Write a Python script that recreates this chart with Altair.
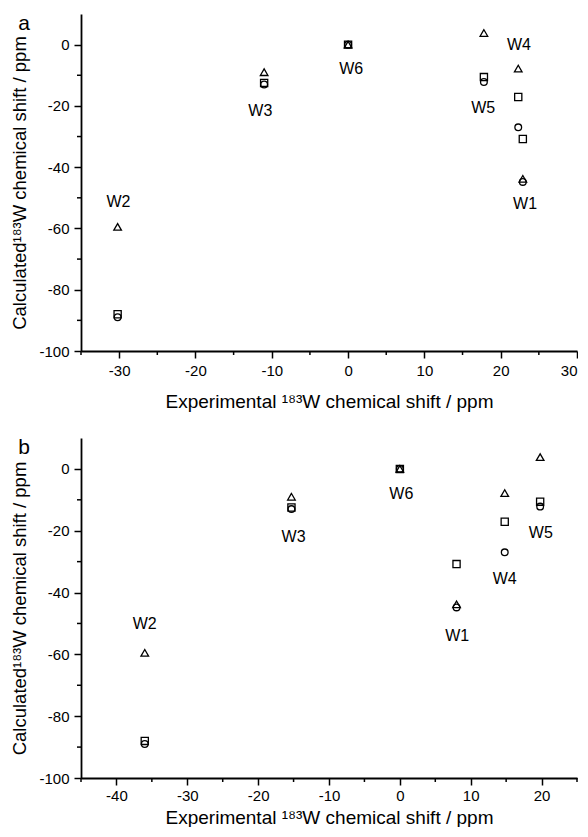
import altair as alt
import pandas as pd

sites = ["W1", "W2", "W3", "W4", "W5", "W6"]
exp_a = [22.9, -30.2, -11.0, 22.3, 17.8, 0.0]
exp_b = [8.0, -36.0, -15.3, 14.8, 19.8, 0.0]
calc_triangle = [-43.8, -59.5, -9.0, -7.8, 3.8, 0.0]
calc_square = [-30.8, -88.0, -12.5, -17.1, -10.6, 0.0]
calc_circle = [-44.8, -89.0, -13.0, -27.0, -12.2, 0.0]
series_names = ["triangle", "square", "circle"]
label_a_x = [23.2, -30.1, -11.5, 22.4, 17.7, 0.4]
label_a_y = [-52.0, -51.5, -21.6, 0.0, -20.6, -8.0]
label_b_x = [8.1, -36.0, -15.0, 14.8, 19.9, 0.2]
label_b_y = [-54.0, -50.2, -22.0, -35.5, -20.6, -8.0]
x_major_a = [-30, -20, -10, 0, 10, 20, 30]
x_minor_a = [-35, -25, -15, -5, 5, 15, 25]
x_major_b = [-40, -30, -20, -10, 0, 10, 20]
x_minor_b = [-45, -35, -25, -15, -5, 5, 15, 25]
y_major = [-100, -80, -60, -40, -20, 0]
y_minor = [-90, -70, -50, -30, -10]

FONT = "Liberation Sans"
XTITLE = "Experimental \u00b9\u2078\u00b3W chemical shift / ppm"
YTITLE = "Calculated\u00b9\u2078\u00b3W chemical shift / ppm"
HYPHEN_LABEL = "datum.value < 0 ? '-' + toString(abs(datum.value)) : toString(datum.value)"


def make_panel(exp, lx, ly, xdom, xmajor, xminor, w, h, letter, lab_pad, title_pad):
    rows = []
    for i, s in enumerate(sites):
        for name, vals in zip(series_names, [calc_triangle, calc_square, calc_circle]):
            rows.append({"site": s, "series": name, "exp": exp[i], "calc": vals[i]})
    pts = pd.DataFrame(rows)
    labels = pd.DataFrame({"site": sites, "exp": lx, "calc": ly})
    xmin = pd.DataFrame({"exp": xminor})
    ymin = pd.DataFrame({"calc": y_minor})

    xscale = alt.Scale(domain=xdom, nice=False, zero=False)
    yscale = alt.Scale(domain=[-100, 10], nice=False, zero=False)
    xaxis = alt.Axis(values=xmajor, tickSize=7, labelFlush=True, labelOverlap=False,
                     labelExpr=HYPHEN_LABEL, titleFontSize=19,
                     labelPadding=lab_pad, titlePadding=title_pad)
    yaxis = alt.Axis(values=y_major, tickSize=7, labelFlush=False, labelOverlap=False,
                     labelExpr=HYPHEN_LABEL, titleFontSize=18.5,
                     labelPadding=5, titlePadding=9)
    X = alt.X("exp:Q", scale=xscale, axis=xaxis, title=XTITLE)
    Y = alt.Y("calc:Q", scale=yscale, axis=yaxis, title=YTITLE)

    points = alt.Chart(pts).mark_point(
        filled=False, color="black", strokeWidth=1.3, opacity=1
    ).encode(
        x=X, y=Y,
        shape=alt.Shape(
            "series:N",
            scale=alt.Scale(domain=series_names, range=["triangle-up", "square", "circle"]),
            legend=None,
        ),
        size=alt.Size(
            "series:N",
            scale=alt.Scale(domain=series_names, range=[58, 45, 50]),
            legend=None,
        ),
    )
    text = alt.Chart(labels).mark_text(
        fontSize=16, font=FONT, color="black", baseline="middle", align="center"
    ).encode(x=X, y=Y, text="site:N")
    xminor_ticks = alt.Chart(xmin).mark_rule(color="black", strokeWidth=1.5).encode(
        x=X, y=alt.value(h), y2=alt.value(h + 4)
    )
    yminor_ticks = alt.Chart(ymin).mark_rule(color="black", strokeWidth=1.5).encode(
        y=Y, x=alt.value(0), x2=alt.value(-4)
    )
    let = alt.Chart(pd.DataFrame({"letter": [letter]})).mark_text(
        fontSize=21, font=FONT, color="black", baseline="alphabetic", align="center"
    ).encode(x=alt.value(-57), y=alt.value(16), text="letter:N")
    return alt.layer(points, text, xminor_ticks, yminor_ticks, let).properties(width=w, height=h)


pa = make_panel(exp_a, label_a_x, label_a_y, [-35, 30], x_major_a, x_minor_a, 496, 337, "a", 5, 14)
pb = make_panel(exp_b, label_b_x, label_b_y, [-45, 25], x_major_b, x_minor_b, 496, 340, "b", 3, 5)

chart = alt.vconcat(pa, pb, spacing=26).properties(
    padding={"left": 2, "top": 5, "right": 0, "bottom": 0}
).configure_view(stroke=None).configure_axis(
    grid=False,
    domainColor="black", domainWidth=1.8,
    tickColor="black", tickWidth=1.5,
    labelColor="black", labelFont=FONT, labelFontSize=15,
    titleColor="black", titleFont=FONT, titleFontSize=19, titleFontWeight="normal",
).configure_text(font=FONT)

chart.save("out.html", embed_options={"renderer": "svg", "actions": False})
